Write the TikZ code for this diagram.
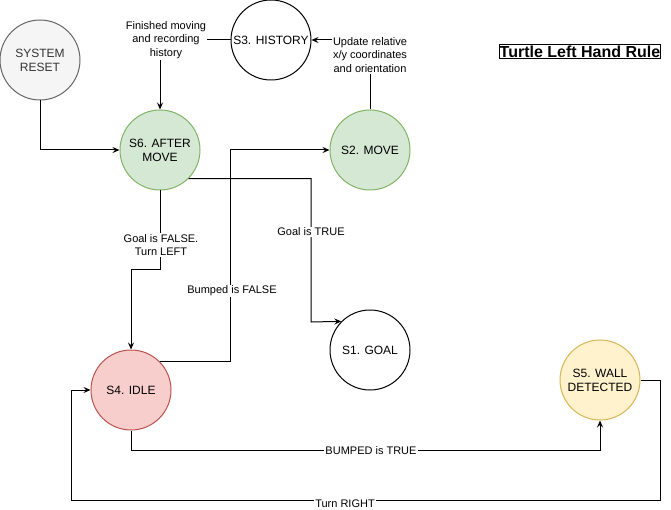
\documentclass[tikz,border=0pt]{standalone}
\usepackage{fontspec}
\setmainfont{Liberation Sans}
\usetikzlibrary{arrows.meta}

\definecolor{resetfill}{HTML}{F5F5F5}
\definecolor{resetline}{HTML}{666666}
\definecolor{resettext}{HTML}{333333}
\definecolor{greenfill}{HTML}{D5E8D4}
\definecolor{greenline}{HTML}{82B366}
\definecolor{redfill}{HTML}{F8CECC}
\definecolor{redline}{HTML}{B85450}
\definecolor{yellowfill}{HTML}{FFF2CC}
\definecolor{yellowline}{HTML}{D6B656}

\newcommand{\statefont}{\fontsize{12}{14}\selectfont}
\newcommand{\labelfont}{\fontsize{11}{13.5}\selectfont}

\tikzset{
    state/.style={circle, draw, line width=1pt, minimum size=80pt, inner sep=0pt,
                  align=center, font=\statefont},
    greenstate/.style={state, fill=greenfill, draw=greenline},
    redstate/.style={state, fill=redfill, draw=redline},
    yellowstate/.style={state, fill=yellowfill, draw=yellowline},
    resetstate/.style={state, fill=resetfill, draw=resetline, text=resettext},
    arr/.style={line width=1pt, -{Stealth[length=7pt,width=6pt,inset=2.5pt]}},
    lbl/.style={fill=white, inner sep=1pt, align=center, font=\labelfont},
}

\begin{document}
\begin{tikzpicture}[x=1pt,y=-1pt]
    \useasboundingbox (0,0) rectangle (671,510);

    % States:
    \node [resetstate]  (reset)   at (40,60)   {SYSTEM\\RESET};
    \node [state]       (history) at (271,40)  {S3. HISTORY};
    \node [greenstate]  (after)   at (160,150) {S6. AFTER\\MOVE};
    \node [greenstate]  (move)    at (370,150) {S2. MOVE};
    \node [state]       (goal)    at (370,350) {S1. GOAL};
    \node [redstate]    (idle)    at (131,390) {S4. IDLE};
    \node [yellowstate] (wall)    at (600,380) {S5. WALL\\DETECTED};

    % Title:
    \node [draw, line width=1pt, inner xsep=0.5pt, inner ysep=1.5pt,
           font=\fontsize{16}{18}\selectfont\bfseries] (title) at (580,51.5) {Turtle Left Hand Rule};

    % Transitions:
    \draw [arr] (reset.south) |- (after.west);

    \draw [arr] (history.west) -| (after.north);
    \node [lbl] (finished) at (166,40) {Finished moving\\and recording\\history};

    \draw [arr] (move.north) |- (history.east);
    \node [lbl] (update) at (370,55) {Update relative\\x/y coordinates\\and orientation};

    \draw [arr] (after.south) -- (160,270) -| (idle.north);
    \node [lbl] (goalfalse) at (161,245) {Goal is FALSE.\\Turn LEFT};

    \draw [arr] (after.-45) -| (311,322) -- (goal.135);
    \node [lbl] (goaltrue) at (311,232) {Goal is TRUE};

    \draw [arr] (idle.45) -| (230,150) -- (move.west);
    \node [lbl] (bumpfalse) at (232,291) {Bumped is FALSE};

    \draw [arr] (idle.south) -- (131,450) -| (wall.south);
    \node [lbl] (bumptrue) at (371,451) {BUMPED is TRUE};

    \draw [arr] (wall.east) -- (660,380) |- (71,500) |- (idle.west);
    \node [lbl] (turnright) at (345,504) {Turn RIGHT};
\end{tikzpicture}
\end{document}
